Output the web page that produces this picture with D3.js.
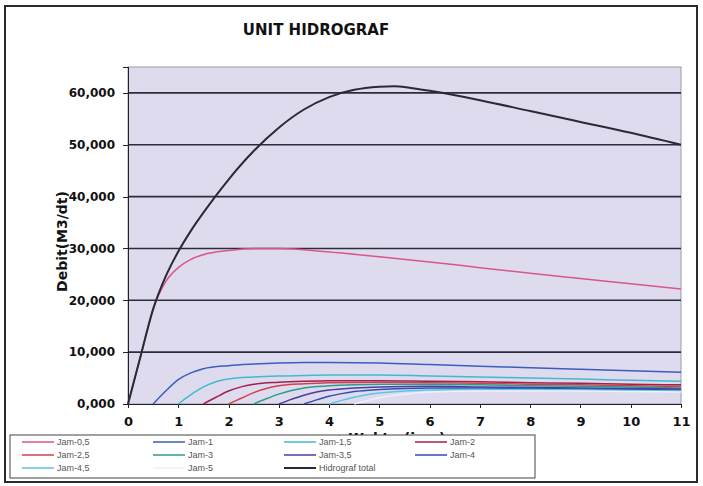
<!DOCTYPE html>
<html>
<head>
<title>Unit Hidrograf</title>
<meta charset="utf-8">
<style>
body { margin: 0; background: #fff; }
.axis text { font: bold 12px "DejaVu Sans", sans-serif; fill: #111; }
.axis path, .axis line { stroke: #222; shape-rendering: crispEdges; }
.legend text { font: 9px "Liberation Sans", Arial, sans-serif; fill: #555; }
</style>
</head>
<body>
<script src="https://cdn.jsdelivr.net/npm/d3@7"></script>
<script>
// debit (m3/dt) per jam
var jam05 = [[0,0],[0.25,9.2],[0.5,18.3],[0.75,23.6],[1,26.3],[1.25,27.9],[1.5,28.8],[2,29.6],[2.5,30.0],[3,30.0],[4,29.3],[5,28.4],[6,27.4],[7,26.3],[8,25.2],[9,24.2],[10,23.2],[11,22.2]];
var jam1 = [[0.5,0],[0.75,2.5],[1,4.7],[1.25,6.0],[1.5,6.8],[2,7.4],[2.5,7.7],[3,7.9],[3.5,8.0],[4,8.0],[5,7.9],[6,7.6],[7,7.3],[8,7.0],[9,6.7],[10,6.4],[11,6.1]];
var jam15 = [[1,0],[1.25,1.8],[1.5,3.3],[1.75,4.3],[2,4.8],[2.5,5.2],[3,5.4],[3.5,5.5],[4,5.6],[5,5.6],[6,5.4],[7,5.2],[8,5.0],[9,4.8],[10,4.6],[11,4.4]];
var jam2 = [[1.5,0],[1.75,1.3],[2,2.5],[2.25,3.3],[2.5,3.8],[3,4.2],[3.5,4.4],[4,4.5],[5,4.5],[6,4.4],[7,4.3],[8,4.1],[9,4.0],[10,3.8],[11,3.7]];
var jam25 = [[2,0],[2.25,1.1],[2.5,2.2],[2.75,3.0],[3,3.5],[3.5,3.9],[4,4.1],[5,4.2],[6,4.1],[7,4.0],[8,3.8],[9,3.7],[10,3.5],[11,3.4]];
var jam3 = [[2.5,0],[2.75,1.0],[3,1.9],[3.25,2.6],[3.5,3.1],[4,3.5],[4.5,3.7],[5,3.8],[6,3.8],[7,3.7],[8,3.5],[9,3.4],[10,3.3],[11,3.1]];
var jam35 = [[3,0],[3.25,0.9],[3.5,1.7],[3.75,2.3],[4,2.7],[4.5,3.1],[5,3.3],[6,3.4],[7,3.3],[8,3.2],[9,3.1],[10,3.0],[11,2.9]];
var jam4 = [[3.5,0],[3.75,0.8],[4,1.5],[4.25,2.0],[4.5,2.4],[5,2.8],[5.5,3.0],[6,3.1],[7,3.1],[8,3.0],[9,2.9],[10,2.8],[11,2.7]];
var jam45 = [[4,0],[4.25,0.7],[4.5,1.3],[4.75,1.8],[5,2.1],[5.5,2.5],[6,2.7],[7,2.8],[8,2.8],[9,2.7],[10,2.6],[11,2.5]];
var jam5 = [[4.5,0],[4.75,0.6],[5,1.2],[5.25,1.6],[5.5,1.9],[6,2.3],[7,2.5],[8,2.5],[9,2.5],[10,2.4],[11,2.3]];
var total = [[0,0],[0.25,9.2],[0.5,18.3],[0.75,24.6],[1,29.4],[1.25,33.4],[1.5,36.9],[1.75,40.2],[2,43.3],[2.5,48.8],[3,53.3],[3.5,56.8],[4,59.2],[4.5,60.6],[5,61.2],[5.3,61.3],[5.6,61.0],[6,60.4],[7,58.6],[8,56.5],[9,54.4],[10,52.3],[11,50.0]];

var names = ["Jam-0,5","Jam-1","Jam-1,5","Jam-2","Jam-2,5","Jam-3","Jam-3,5","Jam-4","Jam-4,5","Jam-5","Hidrograf total"];
var colors = ["#d9568a","#3d5cbf","#45b9cc","#a3204c","#d2414b","#2f9b8c","#4b3c9e","#2f4fb0","#5cc4e4","#eef0fa","#2a2a35"];
var series = [jam05, jam1, jam15, jam2, jam25, jam3, jam35, jam4, jam45, jam5, total];
var xTicks = [0,1,2,3,4,5,6,7,8,9,10,11];
var yTicks = [0,10,20,30,40,50,60];

var W = 703, H = 486;
var margin = {top: 67, right: 22, bottom: 82, left: 128},
    width = W - margin.left - margin.right,
    height = H - margin.top - margin.bottom;

var idLocale = d3.formatLocale({decimal: ",", thousands: ".", grouping: [3], currency: ["", ""]});
var fmt = idLocale.format(".3f");

var x = d3.scaleLinear().domain([0, 11]).range([0, width]);
var y = d3.scaleLinear().domain([0, 65]).range([height, 0]);

var svg = d3.select("body").append("svg")
    .attr("width", W)
    .attr("height", H);

// outer frame
svg.append("rect")
    .attr("x", 5).attr("y", 6)
    .attr("width", 692).attr("height", 476)
    .style("fill", "#fff")
    .style("stroke", "#2a2a2a")
    .style("stroke-width", 2);

svg.append("text")
    .attr("x", 316)
    .attr("y", 35)
    .style("text-anchor", "middle")
    .style("font", "bold 15px 'DejaVu Sans', sans-serif")
    .style("fill", "#111")
    .text("UNIT HIDROGRAF");

var g = svg.append("g")
    .attr("transform", "translate(" + margin.left + "," + margin.top + ")");

g.append("rect")
    .attr("width", width)
    .attr("height", height)
    .style("fill", "#dedbee")
    .style("stroke", "#9a9aa8")
    .style("stroke-width", 1);

g.selectAll(".grid")
    .data(yTicks.filter(function(d) { return d > 0; }))
  .enter().append("line")
    .attr("class", "grid")
    .attr("x1", 0)
    .attr("x2", width)
    .attr("y1", function(d) { return y(d); })
    .attr("y2", function(d) { return y(d); })
    .style("stroke", "#2c2c3c")
    .style("stroke-width", 1.6);

g.append("g")
    .attr("class", "x axis")
    .attr("transform", "translate(0," + height + ")")
    .call(d3.axisBottom(x).tickValues(xTicks).tickSize(4).tickPadding(9).tickFormat(d3.format("d")))
    .call(function(a) { a.selectAll("text").style("font-size", "13px"); });

g.append("g")
    .attr("class", "y axis")
    .call(d3.axisLeft(y).tickValues(yTicks).tickSize(5).tickPadding(8).tickFormat(fmt));

g.selectAll(".axis .domain").style("stroke-width", 1.5);

var line = d3.line()
    .x(function(d) { return x(d[0]); })
    .y(function(d) { return y(d[1]); })
    .curve(d3.curveMonotoneX);

g.selectAll(".series")
    .data(series)
  .enter().append("path")
    .attr("class", "series")
    .attr("d", line)
    .style("fill", "none")
    .style("stroke", function(d, i) { return colors[i]; })
    .style("stroke-width", function(d, i) { return i == 10 ? 2 : 1.5; });

svg.append("text")
    .attr("transform", "translate(67," + (margin.top + height / 2 + 6) + ") rotate(-90)")
    .style("text-anchor", "middle")
    .style("font", "bold 14px 'DejaVu Sans', sans-serif")
    .style("fill", "#111")
    .text("Debit(M3/dt)");

svg.append("text")
    .attr("x", 397)
    .attr("y", 443)
    .style("text-anchor", "middle")
    .style("font", "bold 14px 'DejaVu Sans', sans-serif")
    .style("fill", "#111")
    .text("Waktu (jam)");

// legend box sits over the axis title, as in the original
var lg = svg.append("g").attr("class", "legend");

lg.append("rect")
    .attr("x", 10).attr("y", 435)
    .attr("width", 525).attr("height", 43)
    .style("fill", "#fff")
    .style("stroke", "#444")
    .style("stroke-width", 1);

var item = lg.selectAll(".item")
    .data(names)
  .enter().append("g")
    .attr("class", "item")
    .attr("transform", function(d, i) { return "translate(" + (22 + (i % 4) * 131) + "," + (442 + Math.floor(i / 4) * 13) + ")"; });

item.append("line")
    .attr("x1", 0).attr("x2", 32)
    .style("stroke", function(d, i) { return colors[i]; })
    .style("stroke-width", function(d, i) { return i == 10 ? 2 : 1.5; });

item.append("text")
    .attr("x", 35)
    .attr("dy", "0.35em")
    .text(function(d) { return d; });
</script>
</body>
</html>
